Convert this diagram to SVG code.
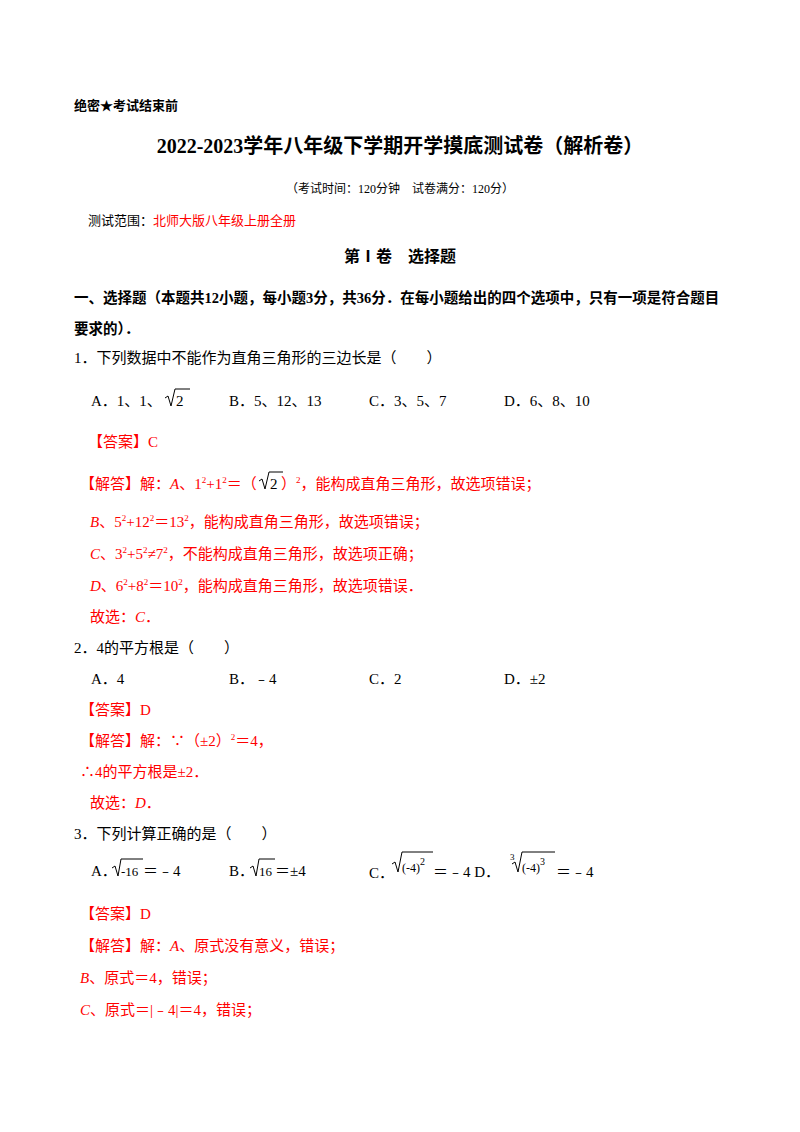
<svg xmlns="http://www.w3.org/2000/svg" width="800" height="1132" viewBox="0 0 800 1132">
<style>
text{font-family:"Liberation Serif","Noto Sans CJK SC",serif;font-size:15px;fill:#000}
.r{fill:#f00}
.b{font-weight:bold}
.i{font-style:italic}
.s{font-size:9px}
path{fill:none;stroke:#000;stroke-width:1}
</style>
<rect width="800" height="1132" fill="#fff"/>
<text x="74" y="110" class="b" style="font-size:13px">绝密★考试结束前</text>
<text x="400" y="153" class="b" text-anchor="middle" style="font-size:20px">2022-2023学年八年级下学期开学摸底测试卷（解析卷）</text>
<text x="400" y="193" text-anchor="middle" style="font-size:12px">（考试时间：120分钟　试卷满分：120分）</text>
<text x="88" y="225" style="font-size:13px">测试范围：<tspan class="r">北师大版八年级上册全册</tspan></text>
<text x="400" y="262" class="b" text-anchor="middle" style="font-size:16px">第Ⅰ卷　选择题</text>
<text x="74" y="303" class="b" style="font-size:14.5px">一、选择题（本题共12小题，每小题3分，共36分．在每小题给出的四个选项中，只有一项是符合题目</text>
<text x="74" y="334" class="b" style="font-size:14.5px">要求的）．</text>
<text x="74" y="363">1．下列数据中不能作为直角三角形的三边长是（　　）</text>
<text x="91" y="406">A．1、1、</text>
<path d="M165 398 L168 396 L171 406 L175 389 L190 389"/>
<text x="176" y="406">2</text>
<text x="229" y="406">B．5、12、13</text>
<text x="369" y="406">C．3、5、7</text>
<text x="504" y="406">D．6、8、10</text>
<text x="88" y="447" class="r">【答案】C</text>
<text x="80" y="489" class="r">【解答】解：<tspan class="i">A</tspan>、1<tspan class="s" dy="-6">2</tspan><tspan dy="6">+1</tspan><tspan class="s" dy="-6">2</tspan><tspan dy="6">＝（</tspan></text>
<path d="M259 481 L262 479 L265 489 L269 472 L283 472" stroke="#000"/>
<text x="270" y="489">2</text>
<text x="281" y="489" class="r">）<tspan class="s" dy="-6">2</tspan><tspan dy="6">，能构成直角三角形，故选项错误；</tspan></text>
<text x="90" y="527" class="r"><tspan class="i">B</tspan>、5<tspan class="s" dy="-6">2</tspan><tspan dy="6">+12</tspan><tspan class="s" dy="-6">2</tspan><tspan dy="6">＝13</tspan><tspan class="s" dy="-6">2</tspan><tspan dy="6">，能构成直角三角形，故选项错误；</tspan></text>
<text x="90" y="559" class="r"><tspan class="i">C</tspan>、3<tspan class="s" dy="-6">2</tspan><tspan dy="6">+5</tspan><tspan class="s" dy="-6">2</tspan><tspan dy="6">≠7</tspan><tspan class="s" dy="-6">2</tspan><tspan dy="6">，不能构成直角三角形，故选项正确；</tspan></text>
<text x="90" y="591" class="r"><tspan class="i">D</tspan>、6<tspan class="s" dy="-6">2</tspan><tspan dy="6">+8</tspan><tspan class="s" dy="-6">2</tspan><tspan dy="6">＝10</tspan><tspan class="s" dy="-6">2</tspan><tspan dy="6">，能构成直角三角形，故选项错误．</tspan></text>
<text x="90" y="622" class="r">故选：<tspan class="i">C</tspan>．</text>
<text x="74" y="653">2．4的平方根是（　　）</text>
<text x="91" y="684">A．4</text>
<text x="229" y="684">B．﹣4</text>
<text x="369" y="684">C．2</text>
<text x="504" y="684">D．±2</text>
<text x="80" y="715" class="r">【答案】D</text>
<text x="80" y="746" class="r">【解答】解：∵（±2）<tspan class="s" dy="-6">2</tspan><tspan dy="6">＝4，</tspan></text>
<text x="80" y="777" class="r">∴4的平方根是±2．</text>
<text x="90" y="808" class="r">故选：<tspan class="i">D</tspan>．</text>
<text x="74" y="839">3．下列计算正确的是（　　）</text>
<text x="91" y="876">A．</text>
<path d="M112 868 L115 866 L118 876 L121 859 L143 859"/>
<text x="121" y="876" style="font-size:13px">-16</text>
<text x="143" y="876">＝﹣4</text>
<text x="229" y="876">B．</text>
<path d="M250 868 L253 866 L256 876 L259 859 L275 859"/>
<text x="259" y="876" style="font-size:13px">16</text>
<text x="275" y="876">＝±4</text>
<text x="369" y="878">C．</text>
<path d="M392 864 L395 862 L398 872 L402 852 L433 852"/>
<text x="402" y="872" style="font-size:12px">(-4)<tspan style="font-size:10px" dy="-7">2</tspan></text>
<text x="433" y="877">＝﹣4 D．</text>
<text x="510" y="860" style="font-size:9px">3</text>
<path d="M512 864 L515 862 L518 872 L522 852 L555 852"/>
<text x="522" y="872" style="font-size:12px">(-4)<tspan style="font-size:10px" dy="-7">3</tspan></text>
<text x="556" y="877">＝﹣4</text>
<text x="80" y="919" class="r">【答案】D</text>
<text x="80" y="951" class="r">【解答】解：<tspan class="i">A</tspan>、原式没有意义，错误；</text>
<text x="80" y="983" class="r"><tspan class="i">B</tspan>、原式＝4，错误；</text>
<text x="80" y="1015" class="r"><tspan class="i">C</tspan>、原式＝|﹣4|＝4，错误；</text>
</svg>
